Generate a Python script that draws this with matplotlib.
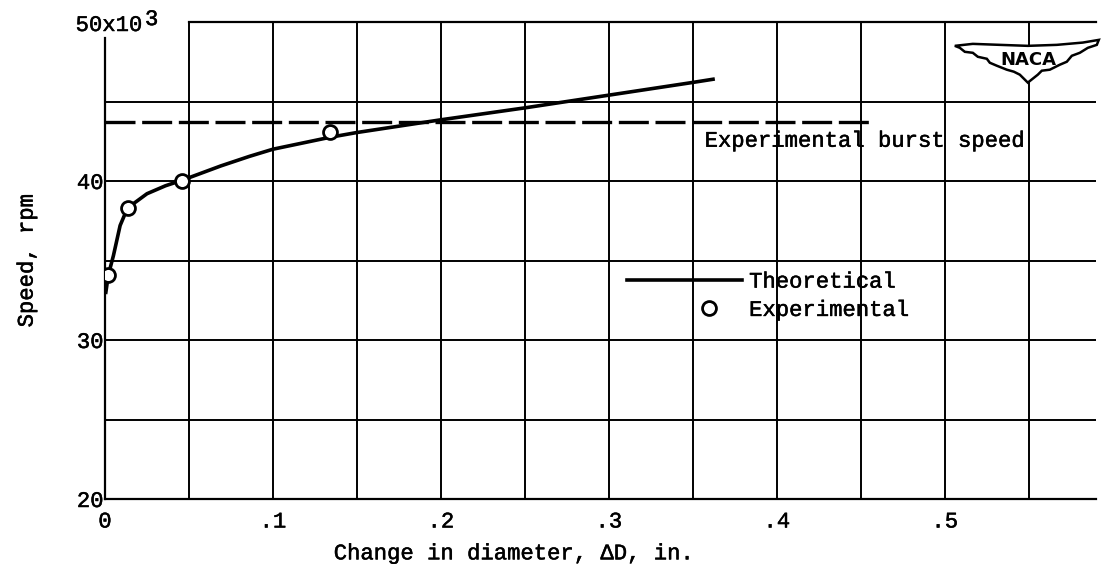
import numpy as np
import matplotlib
matplotlib.use("Agg")
import matplotlib.pyplot as plt
import matplotlib.patheffects as pe
from matplotlib.patches import Polygon

plt.rcParams['font.family'] = ['Liberation Mono', 'DejaVu Sans Mono']

# theoretical curve (Delta D in inches, speed in thousands of rpm)
theo_dd = [0.0005, 0.002, 0.005, 0.009, 0.0134, 0.025, 0.036, 0.046, 0.069,
           0.086, 0.1, 0.134, 0.15, 0.2, 0.25, 0.3, 0.35, 0.362]
theo_speed = [33.0, 34.1, 35.3, 37.2, 38.3, 39.2, 39.7, 40.05, 40.95,
              41.55, 42.0, 42.75, 43.05, 43.85, 44.6, 45.4, 46.2, 46.4]

# experimental points
exp_dd = [0.002, 0.0134, 0.046, 0.134]
exp_speed = [34.1, 38.3, 40.0, 43.1]

# experimental burst speed (dashed)
burst_dd = [0.0, 0.457]
burst_speed = [43.7, 43.7]

xticks = [0, 0.1, 0.2, 0.3, 0.4, 0.5]
xticklabels = ['0', '.1', '.2', '.3', '.4', '.5']
yticks = [20, 30, 40]
yticklabels = ['20', '30', '40']
xgrid = [0.05, 0.1, 0.15, 0.2, 0.25, 0.3, 0.35, 0.4, 0.45, 0.5, 0.55]
ygrid = [25, 30, 35, 40, 45]

fs = 16
# typewriter ink is a bit heavier than Liberation Mono
ink = [pe.withStroke(linewidth=0.35, foreground='black')]

fig = plt.figure(figsize=(11.01, 5.64), dpi=100)
ax = fig.add_axes([105 / 1101, 65 / 564, 991 / 1101, 477 / 564])
ax.set_xlim(0, 0.59)
ax.set_ylim(20, 50)

# grid drawn by hand so the corners can stay open like the original
ax.vlines(xgrid, 20, 50, colors='black', lw=1.4, zorder=1)
ax.hlines(ygrid, 0, 0.59, colors='black', lw=1.4, zorder=1)

for s in ['left', 'top', 'bottom']:
    ax.spines[s].set_linewidth(1.6)
ax.spines['right'].set_visible(False)
ax.spines['left'].set_bounds(20, 49)
ax.spines['top'].set_bounds(0.05, 0.59)

ax.set_xticks(xticks)
ax.set_xticklabels(xticklabels)
ax.set_yticks(yticks)
ax.set_yticklabels(yticklabels)
ax.tick_params(axis='x', length=0, pad=9, labelsize=fs)
ax.tick_params(axis='y', length=0, pad=1, labelsize=fs)
for t in ax.get_xticklabels() + ax.get_yticklabels():
    t.set_path_effects(ink)

# 50x10^3 label at top of y axis
ax.text(-0.0175, 49.78, '50x10', fontsize=fs, ha='left', va='center',
        path_effects=ink)
ax.text(0.0238, 50.15, '3', fontsize=fs, ha='left', va='center',
        path_effects=ink)

theo, = ax.plot(theo_dd, theo_speed, color='black', lw=2.6, zorder=3,
                label='Theoretical')
ax.plot(burst_dd, burst_speed, color='black', lw=2.4, dashes=(9, 2),
        zorder=3)
expt, = ax.plot(exp_dd, exp_speed, 'o', ms=10, mfc='white', mec='black',
                mew=2, zorder=4, label='Experimental')
ax.text(0.357, 42.5, 'Experimental burst speed', fontsize=fs,
        ha='left', va='center', path_effects=ink)

leg = ax.legend(handles=[theo, expt], loc='center left',
                bbox_to_anchor=(0.3107, 32.75), bbox_transform=ax.transData,
                frameon=False, borderpad=0, borderaxespad=0, handlelength=5.2,
                handletextpad=0.3, labelspacing=0.33, numpoints=1,
                prop={'size': fs})
for t in leg.get_texts():
    t.set_path_effects(ink)
# circle key sits towards the right end of the key, as in the original
mk = leg.legend_handles[1]
xd = np.asarray(mk.get_xdata(), dtype=float)
xd[1] = xd[0] + 0.71 * (xd[-1] - xd[0])
mk.set_xdata(xd)

ax.set_xlabel('Change in diameter, \u0394D, in.', fontsize=fs,
              path_effects=ink)
ax.xaxis.set_label_coords(0.413, -0.093)
ax.set_ylabel('Speed, rpm', fontsize=fs, path_effects=ink)
ax.yaxis.set_label_coords(-0.068, 0.5)

# NACA wing badge, top right
def px(x, y):
    return ((x - 105) / 1680, 50 - (y - 22) / 16)

wing = [px(955, 46), px(973, 44), px(1000, 45), px(1028, 46), px(1057, 45),
        px(1083, 42.7), px(1099, 40), px(1097, 45), px(1088, 48),
        px(1080, 53), px(1072, 56), px(1067, 62), px(1060, 65),
        px(1050, 70), px(1042, 71), px(1038, 75), px(1028, 83),
        px(1020, 75), px(1014, 72), px(1007, 70), px(997, 66),
        px(990, 63), px(987, 59), px(978, 57), px(973, 53), px(965, 52),
        px(960, 48)]
ax.add_patch(Polygon(wing, closed=True, fc='white', ec='black', lw=1.8,
                     zorder=5, clip_on=False))
ax.text(*px(1029, 60), 'NACA', fontsize=13, fontweight='bold',
        family='DejaVu Sans', ha='center', va='center', zorder=6)

fig.savefig('out.png', dpi=100)
